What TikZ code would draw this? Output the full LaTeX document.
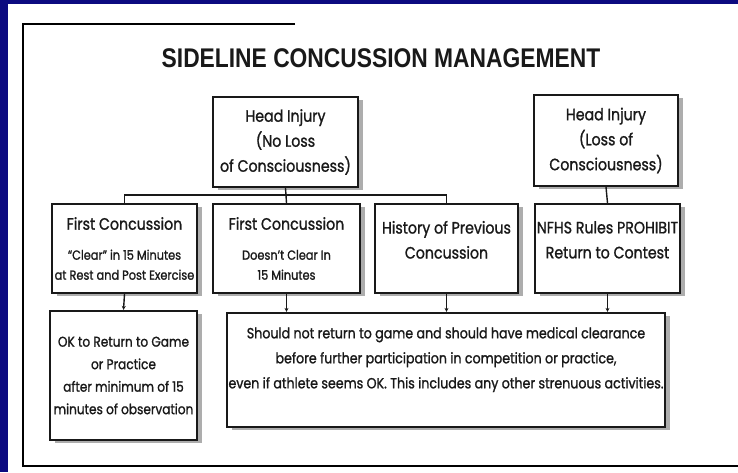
\documentclass[tikz,border=0pt]{standalone}
\usepackage{fontspec}
\usetikzlibrary{shadows,arrows.meta}
\newfontfamily\boxfont{Poppins}[FakeStretch=0.86,FakeBold=1.2]
\newfontfamily\titlefont{Liberation Sans}[FakeStretch=0.845]
\definecolor{navybg}{RGB}{12,10,128}
\definecolor{inkc}{RGB}{25,25,25}
\tikzset{
  box/.style={draw=inkc, line width=2.2pt, fill=white, align=center, inner sep=0pt,
    text=inkc, drop shadow={shadow xshift=5pt, shadow yshift=-3pt, fill=gray!80, opacity=0.8}},
  big/.style={font=\boxfont\fontsize{16.5}{25}\selectfont},
  small/.style={font=\boxfont\fontsize{13.2}{20}\selectfont},
  conn/.style={draw=inkc, line width=1.4pt},
  arr/.style={conn, -{Stealth[length=4pt,width=4pt]}},
  frame/.style={draw=black, line width=2.6pt}
}
\begin{document}
\begin{tikzpicture}[x=1pt,y=-1pt]
\useasboundingbox (0,0) rectangle (738,472);
\fill[navybg] (0,0) rectangle (738,472);
\fill[white] (8,4) rectangle (738,472);
% frame lines
\coordinate (ftl) at (23,24);
\coordinate (ftr) at (295,24);
\coordinate (fbl) at (23,466);
\coordinate (fbr) at (738,466);
\draw[frame] (ftr) -- (ftl) -- (fbl) -- (fbr);
% title
\node[text=inkc, font=\titlefont\bfseries\fontsize{27}{30}\selectfont] (title) at (381,58) {SIDELINE CONCUSSION MANAGEMENT};
% boxes
\node[box, big, minimum width=145pt, minimum height=90pt] (hn) at (285.5,142) {Head Injury\\(No Loss\\of Consciousness)};
\node[box, big, minimum width=144pt, minimum height=91pt] (hl) at (606,140.5) {Head Injury\\(Loss of\\Consciousness)};
\node[box, small, minimum width=145pt, minimum height=89pt] (b1) at (124.5,248.5) {{\fontsize{16.5}{20}\selectfont First Concussion}\\[10pt]“Clear” in 15 Minutes\\at Rest and Post Exercise};
\node[box, small, minimum width=147pt, minimum height=89pt] (b2) at (286.5,248.5) {{\fontsize{16.5}{20}\selectfont First Concussion}\\[10pt]Doesn’t Clear In\\15 Minutes};
\node[box, big, minimum width=143pt, minimum height=89pt] (b3) at (446.5,248.5) {History of Previous\\Concussion\\[-15pt]\strut};
\node[box, big, minimum width=145pt, minimum height=89pt] (b4) at (607.5,248.5) {NFHS Rules PROHIBIT\\Return to Contest\\[-15pt]\strut};
\node[box, font=\boxfont\fontsize{14.1}{22.5}\selectfont, minimum width=147pt, minimum height=129pt] (ok) at (123.5,375.5) {OK to Return to Game\\or Practice\\after minimum of 15\\minutes of observation};
\node[box, font=\boxfont\fontsize{14.7}{25}\selectfont, minimum width=438pt, minimum height=114pt] (sh) at (446,370) {Should not return to game and should have medical clearance\\before further participation in competition or practice,\\even if athlete seems OK. This includes any other strenuous activities.\\[-8pt]\strut};
% connectors
\draw[conn] (hn.south) -- (b2.north);
\draw[conn] (b1.north) -- ++(0,-8) -| (b3.north);
\draw[conn] (hl.south) -- (b4.north);
\draw[arr] (b1.south) -- (ok.north);
\draw[arr] (b2.south) -- (b2.south |- sh.north);
\draw[arr] (b3.south) -- (b3.south |- sh.north);
\draw[arr] (b4.south) -- (b4.south |- sh.north);
\end{tikzpicture}
\end{document}
